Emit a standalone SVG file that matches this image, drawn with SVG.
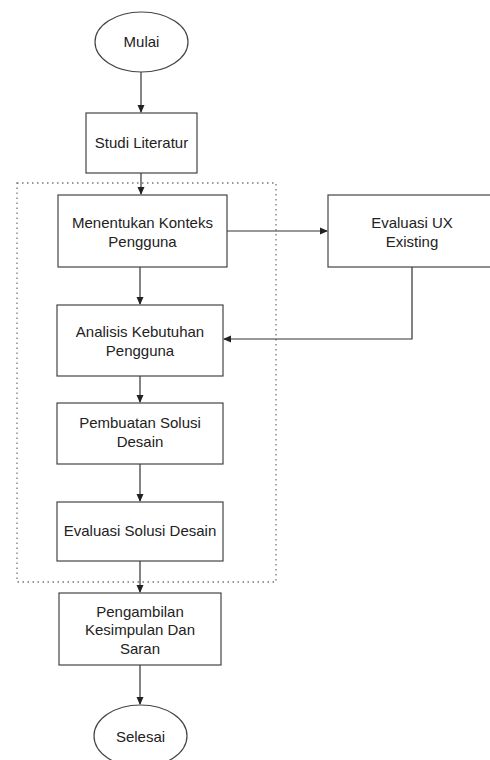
<svg xmlns="http://www.w3.org/2000/svg" width="490" height="760" viewBox="0 0 490 760">
<defs>
<marker id="arr" viewBox="0 0 8 8" refX="7" refY="4" markerWidth="8" markerHeight="8" markerUnits="userSpaceOnUse" orient="auto">
<path d="M0,0.5 L8,4 L0,7.5 Z" fill="#222"/>
</marker>
<style>
.box{fill:#fff;stroke:#444;stroke-width:1.2}
.t{font-family:"Liberation Sans",Arial,sans-serif;font-size:15px;fill:#222;text-anchor:middle}
.c{fill:none;stroke:#333;stroke-width:1.2;marker-end:url(#arr)}
</style>
</defs>
<rect width="490" height="760" fill="#fff"/>
<rect x="17" y="183" width="259" height="399" fill="none" stroke="#777" stroke-width="1.3" stroke-dasharray="1.5,3.5"/>
<g id="connectors">
<path class="c" d="M141,72 V112"/>
<path class="c" d="M141,173 V194"/>
<path class="c" d="M227,231 H327"/>
<path class="c" d="M140,267 V304"/>
<path class="c" d="M412,267 V339 H224"/>
<path class="c" d="M140,376 V402"/>
<path class="c" d="M140,464 V501"/>
<path class="c" d="M140,561 V592"/>
<path class="c" d="M140,665 V704"/>
</g>
<g id="mulai"><ellipse class="box" cx="141.5" cy="42" rx="46.5" ry="30"/><text class="t" x="141.5" y="47">Mulai</text></g>
<g id="studi"><rect class="box" x="86" y="113" width="111" height="60"/><text class="t" x="141.5" y="148">Studi Literatur</text></g>
<g id="konteks"><rect class="box" x="58" y="195" width="169" height="72"/><text class="t" x="142.5" y="228">Menentukan Konteks</text><text class="t" x="142.5" y="247">Pengguna</text></g>
<g id="evalux"><rect class="box" x="328" y="195" width="166" height="72"/><text class="t" x="412" y="228">Evaluasi UX</text><text class="t" x="412" y="247">Existing</text></g>
<g id="analisis"><rect class="box" x="57" y="305" width="166" height="71"/><text class="t" x="140" y="337">Analisis Kebutuhan</text><text class="t" x="140" y="356">Pengguna</text></g>
<g id="pembuatan"><rect class="box" x="57" y="403" width="166" height="61"/><text class="t" x="140" y="428">Pembuatan Solusi</text><text class="t" x="140" y="447">Desain</text></g>
<g id="evalsolusi"><rect class="box" x="57" y="502" width="166" height="59"/><text class="t" x="140" y="536">Evaluasi Solusi Desain</text></g>
<g id="kesimpulan"><rect class="box" x="59" y="593" width="162" height="72"/><text class="t" x="140" y="617">Pengambilan</text><text class="t" x="140" y="635">Kesimpulan Dan</text><text class="t" x="140" y="654">Saran</text></g>
<g id="selesai"><ellipse class="box" cx="140.5" cy="736" rx="46.5" ry="31"/><text class="t" x="140.5" y="742">Selesai</text></g>
</svg>
